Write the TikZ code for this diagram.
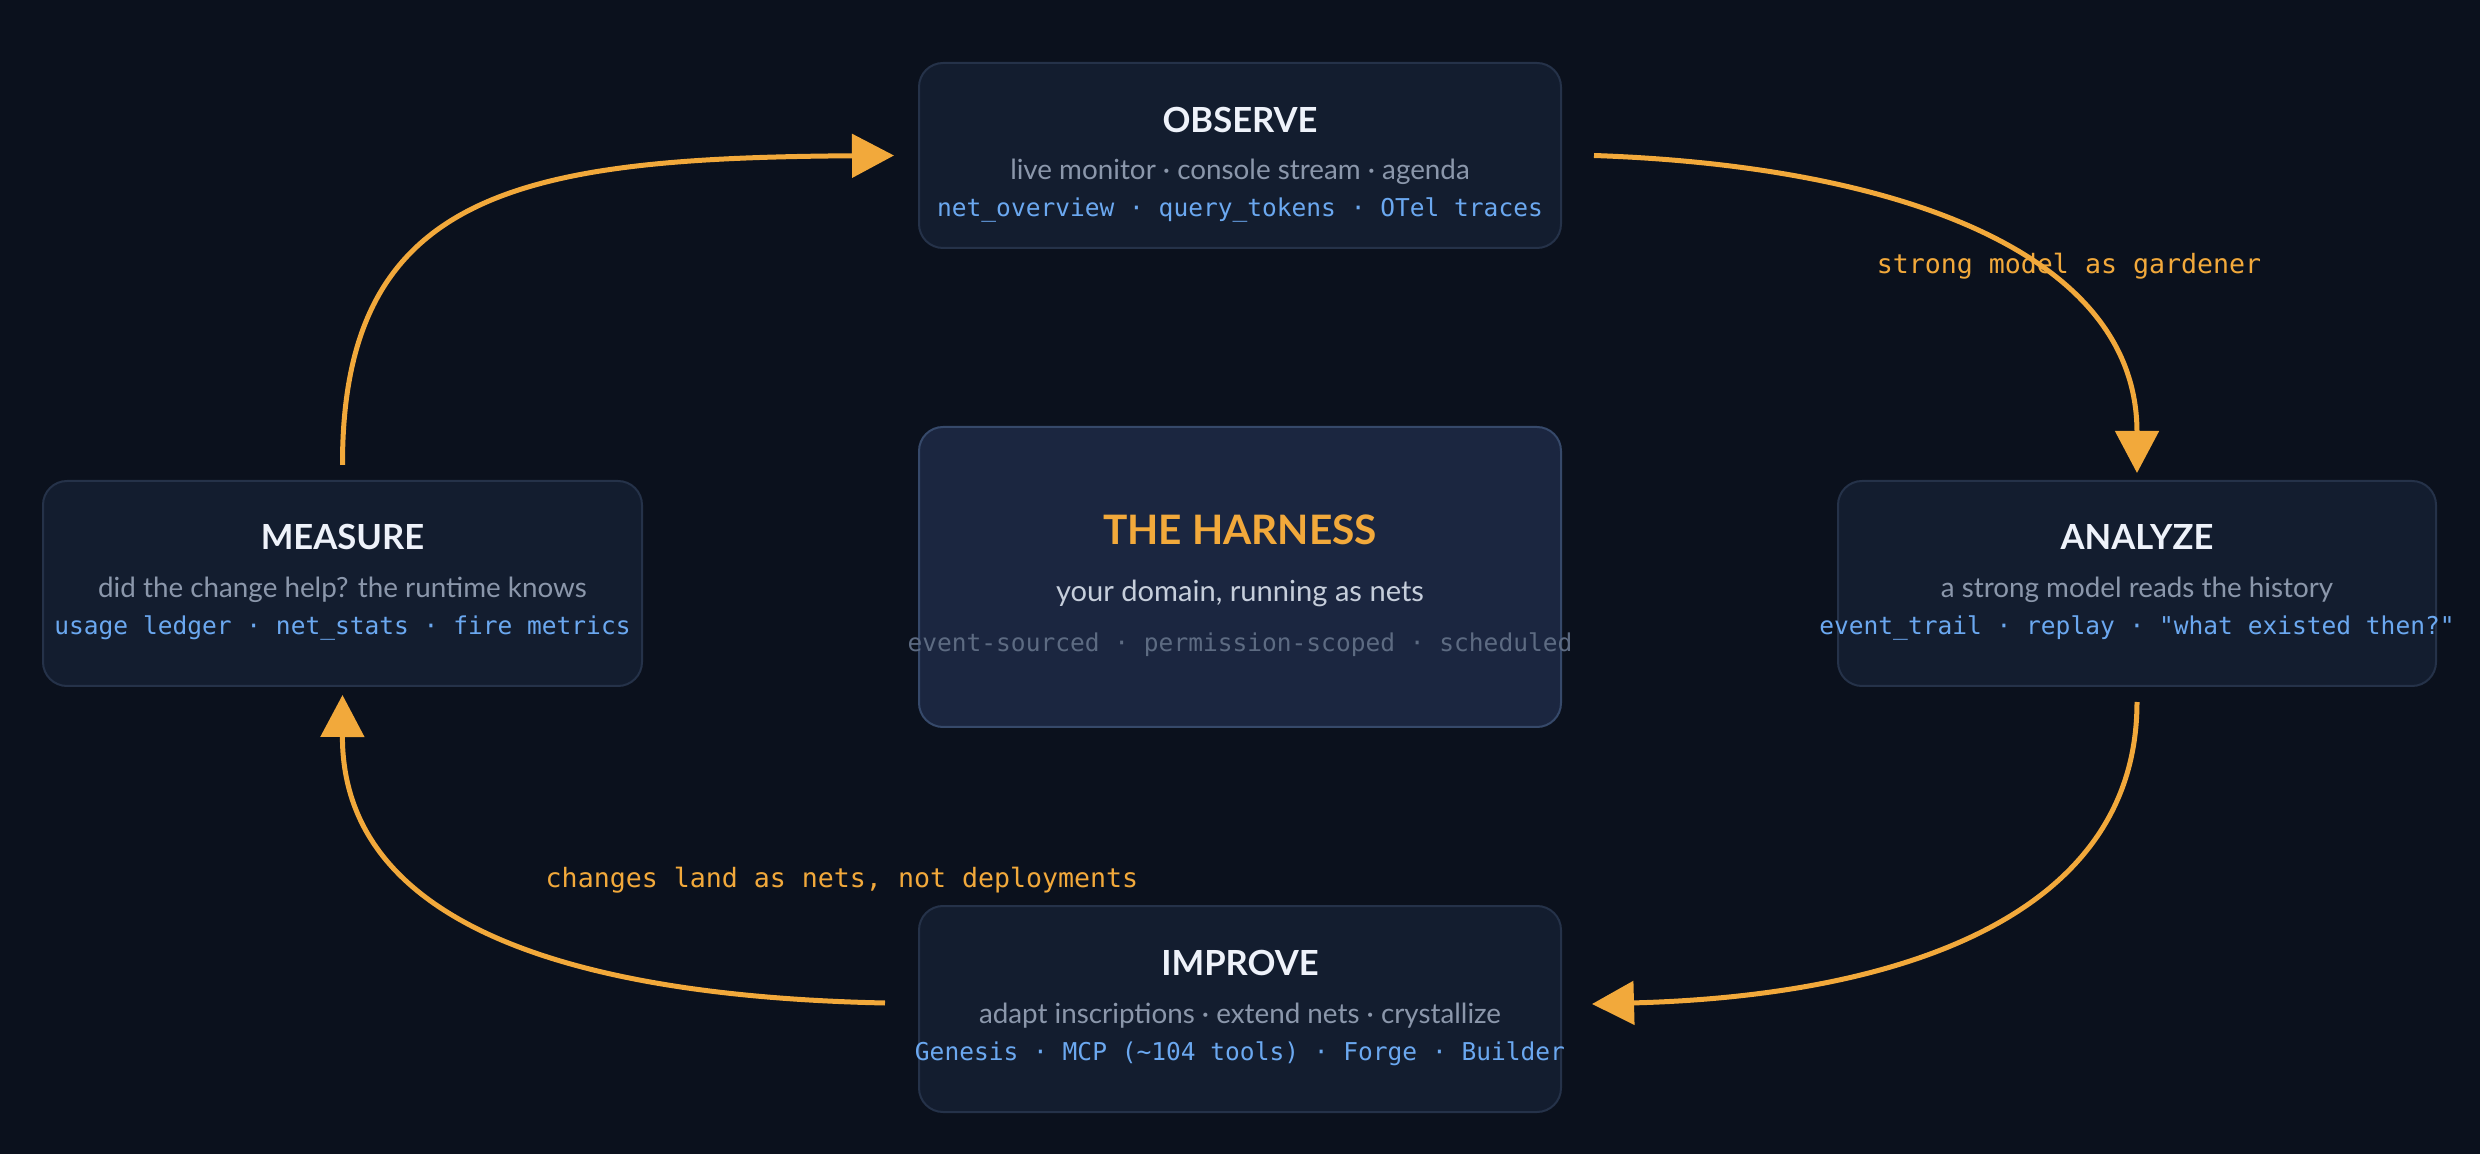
\documentclass[tikz,border=0pt]{standalone}
\usepackage{fontspec}
\setmainfont{Lato}
\setmonofont{DejaVu Sans Mono}
\usetikzlibrary{arrows.meta}
\definecolor{bg}{HTML}{0B111D}
\definecolor{boxfill}{HTML}{131D2F}
\definecolor{boxline}{HTML}{253249}
\definecolor{hfill}{HTML}{1B2640}
\definecolor{hline}{HTML}{36496A}
\definecolor{orange}{HTML}{F2A93B}
\definecolor{titlec}{HTML}{EEF2FA}
\definecolor{subc}{HTML}{8B97AB}
\definecolor{hsubc}{HTML}{C6CEDB}
\definecolor{monoc}{HTML}{6BA8F0}
\definecolor{hmonoc}{HTML}{5D6B82}
\begin{document}
\begin{tikzpicture}[x=0.5pt,y=-0.5pt,
  box/.style={draw=boxline, fill=boxfill, line width=1pt, rounded corners=12pt, inner sep=0pt},
  hbox/.style={draw=hline, fill=hfill, line width=1pt, rounded corners=12pt, inner sep=0pt},
  ttl/.style={anchor=base, inner sep=0pt, text=titlec, font=\bfseries\fontsize{17.3}{20}\selectfont},
  sub/.style={anchor=base, inner sep=0pt, text=subc, font=\fontsize{13.9}{16}\selectfont},
  mono/.style={anchor=base, inner sep=0pt, text=monoc, font=\ttfamily\fontsize{12.27}{15}\selectfont},
  lbl/.style={anchor=base, inner sep=0pt, text=orange, font=\ttfamily\fontsize{13.3}{16}\selectfont},
  arr/.style={draw=orange, line width=2.5pt, -{Triangle[length=21pt,width=21.5pt]}}
]
\fill[bg] (0,0) rectangle (2480,1154);
\useasboundingbox (0,0) rectangle (2480,1154);

% boxes
\node[box, minimum width=321pt, minimum height=92.5pt] (obs) at (1240,155.5) {};
\node[hbox, minimum width=321pt, minimum height=150pt] (har) at (1240,577) {};
\node[box, minimum width=299.5pt, minimum height=102.5pt] (meas) at (342.5,583.5) {};
\node[box, minimum width=299pt, minimum height=102.5pt] (ana) at (2137,583.5) {};
\node[box, minimum width=321pt, minimum height=103pt] (imp) at (1240,1009) {};

% OBSERVE
\node[ttl] (obsT) at (1240,133) {OBSERVE};
\node[sub] (obsS) at (1240,180) {live monitor · console stream · agenda};
\node[mono] (obsM) at (1240,217) {net\_overview · query\_tokens · OTel traces};

% HARNESS
\node[anchor=base, inner sep=0pt, text=orange, font=\bfseries\fontsize{20.3}{24}\selectfont] (harT) at (1240,545) {THE HARNESS};
\node[anchor=base, inner sep=0pt, text=hsubc, font=\fontsize{14.55}{18}\selectfont] (harS) at (1240,602) {your domain, running as nets};
\node[mono, text=hmonoc] (harM) at (1240,652) {event-sourced · permission-scoped · scheduled};

% MEASURE
\node[ttl] (measT) at (342.5,550) {MEASURE};
\node[sub] (measS) at (342.5,598) {did the change help? the runtime knows};
\node[mono] (measM) at (342.5,635) {usage ledger · net\_stats · fire metrics};

% ANALYZE
\node[ttl] (anaT) at (2137,550) {ANALYZE};
\node[sub] (anaS) at (2137,598) {a strong model reads the history};
\node[mono] (anaM) at (2137,635) {event\_trail · replay · "what existed then?"};

% IMPROVE
\node[ttl] (impT) at (1240,975) {IMPROVE};
\node[sub] (impS) at (1240,1023) {adapt inscriptions · extend nets · crystallize};
\node[mono] (impM) at (1240,1060) {Genesis · MCP (\textasciitilde104 tools) · Forge · Builder};

% arrows
\draw[arr] ([yshift=7.5pt]meas.north) .. controls (342,190) and (522,158) .. ([xshift=-12pt]obs.west);
\draw[arr] ([xshift=16pt]obs.east) .. controls (1898,166) and (2137,253) .. ([yshift=3.5pt]ana.north);
\draw[arr] ([yshift=-7.5pt]ana.south) .. controls (2137,917) and (1898,996) .. ([xshift=15pt,yshift=2.5pt]imp.east);
\draw[arr] ([xshift=-16.5pt,yshift=3pt]imp.west) .. controls (554,996) and (342,917) .. ([yshift=-4pt]meas.south);

% labels
\node[lbl] (l1) at (2069,274) {strong model as gardener};
\node[lbl] (l2) at (842,887) {changes land as nets, not deployments};
\end{tikzpicture}
\end{document}
